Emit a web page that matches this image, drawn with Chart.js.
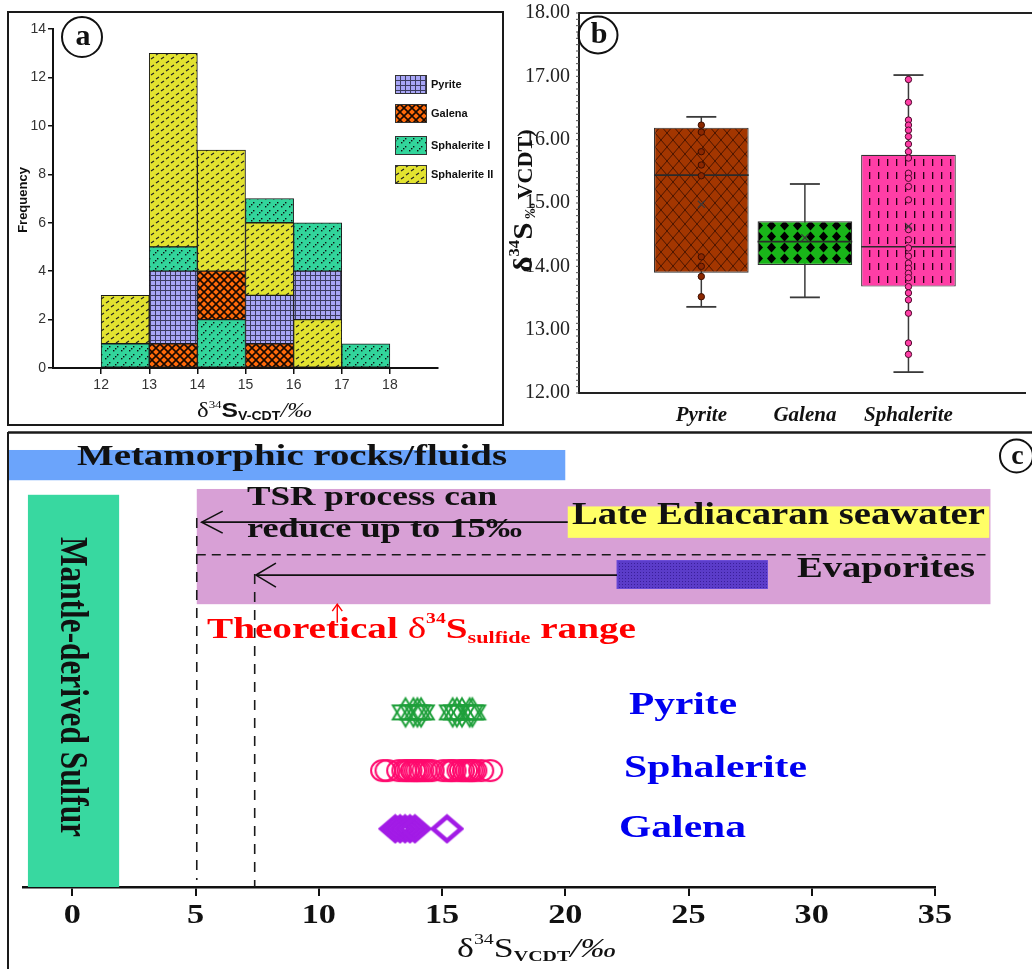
<!DOCTYPE html>
<html><head><meta charset="utf-8">
<script src="https://cdn.jsdelivr.net/npm/chart.js@4.4.1/dist/chart.umd.min.js"></script>
<style>
html,body{margin:0;padding:0;background:#fff;}
#wrap{position:relative;width:1032px;height:969px;overflow:hidden;background:#fff;}
#wrap canvas{position:absolute;}
</style></head><body>
<div id="wrap">
<canvas id="ca" width="505" height="430" style="left:0px;top:0px"></canvas>
<canvas id="cb" width="527" height="430" style="left:505px;top:0px"></canvas>
<canvas id="cc" width="1032" height="539" style="left:0px;top:430px"></canvas>
</div>
<script>
// ================= DATA =================
// (a) histogram of d34S (per 1 permil bin)
const binCenters = [12.5, 13.5, 14.5, 15.5, 16.5, 17.5];
const histXTicks = [12, 13, 14, 15, 16, 17, 18];
const histYTicks = [0, 2, 4, 6, 8, 10, 12, 14];
const histSeries = ['Pyrite', 'Galena', 'Sphalerite I', 'Sphalerite II'];
const pyriteCounts = [0, 3, 0, 2, 2, 0];
const galenaCounts = [0, 1, 2, 1, 0, 0];
const sphalerite1Counts = [1, 1, 2, 1, 2, 1];
const sphalerite2Counts = [2, 8, 5, 3, 2, 0];
// stacking order inside each bin (bottom -> top), indices into histSeries
const binStackOrder = [[2, 3], [1, 0, 2, 3], [2, 1, 3], [1, 0, 3, 2], [3, 0, 2], [2]];

// (b) box plot
const boxCategories = ['Pyrite', 'Galena', 'Sphalerite'];
const boxMin = [13.36, 13.51, 12.33];
const boxQ1 = [13.90, 14.02, 13.68];
const boxMedian = [15.44, 14.39, 14.31];
const boxQ3 = [16.19, 14.71, 15.76];
const boxMax = [16.36, 15.30, 17.02];
const boxMean = [14.98, 14.45, 14.63];
const boxYTicks = [12, 13, 14, 15, 16, 17, 18];
const pyriteValues = [16.23, 16.12, 15.81, 15.60, 15.43, 14.15, 14.00, 13.84, 13.52];
const sphaleriteValues = [16.95, 16.59, 16.31, 16.23, 16.15, 16.05, 15.93, 15.81, 15.71, 15.47, 15.39, 15.26, 15.05,
  14.58, 14.42, 14.29, 14.16, 14.05, 13.97, 13.89, 13.82, 13.68, 13.58, 13.47, 13.26, 12.79, 12.61];
const galenaValues = [13.1, 13.3, 13.5, 13.7, 13.9, 15.2];

// (c) sulfur source ranges (permil)
const rangeXTicks = [0, 5, 10, 15, 20, 25, 30, 35];
const metamorphicRange = [-2.6, 20];
const mantleRange = [-1.8, 1.9];
const sulfideFieldRange = [5.05, 37.25];
const seawaterLabelRange = [20.1, 37.2];
const evaporiteRange = [22.1, 28.2];
const tsrShift = [20.1, 5.25];
const evaporiteShift = [22.1, 7.45];
const tsrLimits = [5.05, 7.4];
const theoreticalMark = 10.75;

// ================= STYLE / LAYOUT =================
const SERIF = "'Liberation Serif', 'Times New Roman', serif";
const SANS = "'Liberation Sans', Arial, sans-serif";
Chart.defaults.font.family = SANS;
Chart.defaults.animation = false;

// vertical layout rows of panel (c), in y-axis units
const L = { galena: 1, sphalerite: 2, pyrite: 3, fieldLo: 4.86, fieldHi: 6.84, seaLo: 6.0, seaHi: 6.54,
  evapLo: 5.13, evapHi: 5.61, split: 5.71, tsrArrow: 6.27, evapArrow: 5.36, metaLo: 6.99, metaHi: 7.51,
  mantleHi: 6.74, tsrLineTop: 6.34, tsrLineBot: 0.12, evapLineTop: 5.38, theoLo: 4.54, yMax: 7.63 };

function pattern(w, h, bg, draw) {
  const c = document.createElement('canvas'); c.width = w; c.height = h;
  const g = c.getContext('2d'); g.fillStyle = bg; g.fillRect(0, 0, w, h); draw(g);
  return document.createElement('canvas').getContext('2d').createPattern(c, 'repeat');
}
const patA = [
  pattern(5, 5, '#a7a5f5', g => { g.fillStyle = '#3c3c60'; g.fillRect(0, 0, 5, 1); g.fillRect(0, 0, 1, 5); }),
  pattern(8, 8, '#ff6a0a', g => { g.strokeStyle = '#1a0a00'; g.lineWidth = 1.6; g.beginPath(); g.moveTo(-1, -1); g.lineTo(9, 9); g.moveTo(9, -1); g.lineTo(-1, 9); g.stroke(); }),
  pattern(8, 8, '#32d59b', g => { g.fillStyle = '#111'; for (let i = 0; i < 3; i++) g.fillRect(i * 2 + 1, 6 - i * 2, 1.4, 1.4); }),
  pattern(10, 8, '#e2e230', g => { g.strokeStyle = '#222'; g.lineWidth = 1.2; g.beginPath(); g.moveTo(1, 3); g.lineTo(4, 1); g.moveTo(6, 7); g.lineTo(9, 5); g.stroke(); })
];
const patB = [
  pattern(12, 14, '#a33600', g => { g.strokeStyle = '#4a1600'; g.lineWidth = 1; g.beginPath(); g.moveTo(0, 0); g.lineTo(12, 14); g.moveTo(12, 0); g.lineTo(0, 14); g.stroke(); }),
  pattern(13, 11, '#19b519', g => { g.fillStyle = '#000'; g.beginPath(); g.moveTo(6.5, 0.5); g.lineTo(11, 5.5); g.lineTo(6.5, 10.5); g.lineTo(2, 5.5); g.closePath(); g.fill(); }),
  pattern(9, 13, '#ff3ea6', g => { g.fillStyle = '#2a0015'; g.fillRect(4, 3, 1.3, 7); })
];
const patEvap = pattern(3, 3, '#5b3cc9', g => { g.fillStyle = '#3a1f9a'; g.fillRect(1, 1, 1, 1); });

function drawRuns(ctx, runs, o) {
  ctx.save();
  let total = 0;
  for (const r of runs) { ctx.font = r.f; r.w = ctx.measureText(r.t).width; total += r.w; }
  const sx = o.w ? o.w / total : (o.sx || 1);
  ctx.translate(o.x, o.y);
  if (o.psx) ctx.scale(o.psx, 1);
  if (o.rot) ctx.rotate(o.rot);
  ctx.scale(sx, 1);
  let x = o.align === 'center' ? -total / 2 : o.align === 'right' ? -total : 0;
  ctx.textBaseline = o.baseline || 'alphabetic'; ctx.textAlign = 'left';
  for (const r of runs) { ctx.font = r.f; ctx.fillStyle = r.c || o.color || '#000'; ctx.fillText(r.t, x, r.dy || 0); x += r.w; }
  ctx.restore();
}
function circleLabel(ctx, cx, cy, rx, ry, letter, size) {
  ctx.save(); ctx.lineWidth = 2; ctx.strokeStyle = '#111';
  ctx.beginPath(); ctx.ellipse(cx, cy, rx, ry, 0, 0, Math.PI * 2); ctx.stroke(); ctx.restore();
  drawRuns(ctx, [{ t: letter, f: 'bold ' + size + 'px ' + SERIF }], { x: cx + 1, y: cy + size * 0.28, align: 'center', color: '#111' });
}
function line(ctx, x0, y0, x1, y1, color, lw, dash) {
  ctx.save(); ctx.strokeStyle = color; ctx.lineWidth = lw; ctx.setLineDash(dash || []);
  ctx.beginPath(); ctx.moveTo(x0, y0); ctx.lineTo(x1, y1); ctx.stroke(); ctx.restore();
}
function span(ctx, x0, y0, x1, y1, fill) {
  ctx.fillStyle = fill; ctx.fillRect(Math.min(x0, x1), Math.min(y0, y1), Math.abs(x1 - x0), Math.abs(y1 - y0));
}
const noOverflow = s => { s.paddingTop = 0; s.paddingBottom = 0; s.paddingLeft = 0; s.paddingRight = 0; };

// ================= PANEL (a) =================
const countsBySeries = [pyriteCounts, galenaCounts, sphalerite1Counts, sphalerite2Counts];
function floatingRanges(s) {
  const out = [];
  binCenters.forEach((c, b) => {
    let base = 0;
    for (const k of binStackOrder[b]) {
      const n = countsBySeries[k][b];
      if (k === s) { if (n > 0) out.push({ x: c, y: [base, base + n] }); break; }
      base += n;
    }
  });
  return out;
}
const panelA = {
  id: 'panelA',
  afterDraw(chart) {
    const ctx = chart.ctx;
    ctx.save(); ctx.lineWidth = 2; ctx.strokeStyle = '#1a1a1a'; ctx.strokeRect(8, 12, 495, 413); ctx.restore();
    circleLabel(ctx, 82, 37, 20, 20, 'a', 30);
    drawRuns(ctx, [{ t: 'Frequency', f: 'bold 13px ' + SANS }], { x: 27, y: 200, rot: -Math.PI / 2, align: 'center', color: '#111' });
    drawRuns(ctx, [
      { t: '\u03b4', f: '21px ' + SERIF },
      { t: '34', f: '11px ' + SERIF, dy: -9 },
      { t: 'S', f: 'bold 21px ' + SANS },
      { t: 'V-CDT', f: 'bold 12px ' + SANS, dy: 3 },
      { t: '/\u2030', f: 'italic 21px ' + SERIF }
    ], { x: 197, y: 417, w: 115, color: '#111' });
    const ys = [75, 104, 136, 165];
    histSeries.forEach((name, i) => {
      ctx.save(); ctx.fillStyle = patA[i]; ctx.fillRect(395, ys[i], 31, 18);
      ctx.strokeStyle = '#333'; ctx.lineWidth = 1; ctx.strokeRect(395.5, ys[i] + 0.5, 31, 18); ctx.restore();
      drawRuns(ctx, [{ t: name, f: 'bold 11px ' + SANS }], { x: 431, y: ys[i] + 13, color: '#111' });
    });
  }
};
new Chart(document.getElementById('ca'), {
  type: 'bar',
  data: {
    datasets: histSeries.map((name, s) => ({
      label: name, data: floatingRanges(s), backgroundColor: patA[s], borderColor: '#1a1a1a', borderWidth: 1,
      borderSkipped: false, grouped: false, barPercentage: 1, categoryPercentage: 1
    }))
  },
  options: {
    responsive: false, devicePixelRatio: 1, animation: false,
    layout: { padding: { left: 8, top: 29, right: 67, bottom: 22 } },
    plugins: { legend: { display: false }, tooltip: { enabled: false } },
    scales: {
      x: {
        type: 'linear', min: 11, max: 19, offset: false,
        afterBuildTicks: s => { s.ticks = histXTicks.map(v => ({ value: v })); },
        afterFit: s => { s.height = 40; noOverflow(s); },
        grid: { drawOnChartArea: false, drawTicks: true, tickLength: 6, color: '#111', lineWidth: 1.5, offset: false },
        border: { display: true, color: '#111', width: 2 },
        ticks: { color: '#333', font: { size: 14, family: SANS }, padding: 3, maxRotation: 0, autoSkip: false }
      },
      y: {
        type: 'linear', min: 0, max: 14,
        afterBuildTicks: s => { s.ticks = histYTicks.map(v => ({ value: v })); },
        afterFit: s => { s.width = 45; noOverflow(s); },
        grid: { drawOnChartArea: false, drawTicks: true, tickLength: 5, color: '#111', lineWidth: 1.5 },
        border: { display: true, color: '#111', width: 2 },
        ticks: { color: '#333', font: { size: 14, family: SANS }, padding: 2, autoSkip: false }
      }
    }
  },
  plugins: [panelA]
});

// ================= PANEL (b) =================
const panelB = {
  id: 'panelB',
  beforeDatasetsDraw(chart) {
    const ctx = chart.ctx, xs = chart.scales.x, ys = chart.scales.y;
    boxCategories.forEach((c, i) => {
      const x = xs.getPixelForValue(i + 1);
      line(ctx, x, ys.getPixelForValue(boxMax[i]), x, ys.getPixelForValue(boxMin[i]), '#3a3a3a', 1.5);
      line(ctx, x - 15, ys.getPixelForValue(boxMax[i]), x + 15, ys.getPixelForValue(boxMax[i]), '#3a3a3a', 1.8);
      line(ctx, x - 15, ys.getPixelForValue(boxMin[i]), x + 15, ys.getPixelForValue(boxMin[i]), '#3a3a3a', 1.8);
    });
  },
  afterDatasetDraw(chart, args) {
    if (args.meta.type !== 'bar') return;
    const ctx = chart.ctx, ys = chart.scales.y;
    args.meta.data.forEach((el, i) => {
      const y = ys.getPixelForValue(boxMedian[i]);
      line(ctx, el.x - el.width / 2, y, el.x + el.width / 2, y, '#2a2a2a', 1.6);
    });
  },
  afterDraw(chart) {
    const ctx = chart.ctx, ys = chart.scales.y, a = chart.chartArea;
    line(ctx, a.left, ys.getPixelForValue(18), chart.width, ys.getPixelForValue(18), '#222', 2);
    for (let k = 0; k <= 60; k++) {
      const y = ys.getPixelForValue(12 + k * 0.1);
      line(ctx, a.left - 3, y, a.left, y, '#555', 1);
    }
    circleLabel(ctx, 93, 35, 19.5, 18.5, 'b', 30);
    drawRuns(ctx, [
      { t: '\u03b4', f: 'bold 28px ' + SERIF },
      { t: '34', f: 'bold 15px ' + SERIF, dy: -13 },
      { t: 'S', f: 'bold 28px ' + SERIF },
      { t: ' \u2030 ', f: 'bold 14px ' + SERIF, dy: 3 },
      { t: 'VCDT)', f: 'bold 20px ' + SERIF }
    ], { x: 27, y: 201, rot: -Math.PI / 2, align: 'center', w: 143, color: '#111' });
  }
};
new Chart(document.getElementById('cb'), {
  type: 'bar',
  data: {
    datasets: [
      { type: 'scatter', label: 'Mean', data: boxMean.map((v, i) => ({ x: i + 1, y: v })), pointStyle: 'crossRot', pointRadius: 5,
        borderColor: '#3a3a3a', borderWidth: 1.2, backgroundColor: 'rgba(0,0,0,0)', order: 0 },
      { type: 'scatter', label: 'Pyrite', data: pyriteValues.map(v => ({ x: 1, y: v })), pointRadius: 3.2,
        backgroundColor: '#8b2800', borderColor: '#3d0e00', borderWidth: 1, order: 1 },
      { type: 'scatter', label: 'Sphalerite', data: sphaleriteValues.map(v => ({ x: 3, y: v })), pointRadius: 3.2,
        backgroundColor: '#ff3ea6', borderColor: '#4a0a2a', borderWidth: 1, order: 1 },
      { type: 'bar', label: 'IQR', data: boxQ1.map((q, i) => ({ x: i + 1, y: [q, boxQ3[i]] })), backgroundColor: patB,
        borderColor: '#333', borderWidth: 1.2, borderSkipped: false, grouped: false, barPercentage: 0.914, categoryPercentage: 1, order: 3 }
    ]
  },
  options: {
    responsive: false, devicePixelRatio: 1, animation: false,
    layout: { padding: { left: 0, top: 13, right: 0, bottom: 0 } },
    plugins: { legend: { display: false }, tooltip: { enabled: false } },
    scales: {
      x: {
        type: 'linear', min: -0.181, max: 4.133, offset: false,
        afterBuildTicks: s => { s.ticks = boxCategories.map((c, i) => ({ value: i + 1 })); },
        afterFit: s => { s.height = 37; noOverflow(s); },
        grid: { drawOnChartArea: false, drawTicks: false, offset: false },
        border: { display: true, color: '#222', width: 2 },
        ticks: { callback: v => boxCategories[v - 1], color: '#111', padding: 10, maxRotation: 0, autoSkip: false,
          font: { family: SERIF, size: 21, weight: 'bold', style: 'italic' } }
      },
      y: {
        type: 'linear', min: 12, max: 18,
        afterBuildTicks: s => { s.ticks = boxYTicks.map(v => ({ value: v })); },
        afterFit: s => { s.width = 74; noOverflow(s); },
        grid: { drawOnChartArea: false, drawTicks: false },
        border: { display: true, color: '#222', width: 2 },
        ticks: { callback: v => Number(v).toFixed(2), color: '#222', padding: 9, font: { family: SERIF, size: 20 } }
      }
    }
  },
  plugins: [panelB]
});

// ================= PANEL (c) =================
function hexagramImg(r, sx, color, lw) {
  const w = Math.ceil(2 * r * sx + lw * 2 + 2), h = Math.ceil(2 * r + lw * 2 + 2), c = document.createElement('canvas');
  c.width = w; c.height = h;
  const g = c.getContext('2d'); g.strokeStyle = color; g.lineWidth = lw;
  [-90, 90].forEach(a0 => {
    g.beginPath();
    for (let k = 0; k < 3; k++) {
      const a = (a0 + k * 120) * Math.PI / 180, px = w / 2 + r * sx * Math.cos(a), py = h / 2 + r * Math.sin(a);
      if (k) g.lineTo(px, py); else g.moveTo(px, py);
    }
    g.closePath(); g.stroke();
  });
  return c;
}
function ellipseImg(rx, ry, color, lw) {
  const w = Math.ceil(2 * rx + lw + 2), h = Math.ceil(2 * ry + lw + 2), c = document.createElement('canvas');
  c.width = w; c.height = h;
  const g = c.getContext('2d'); g.strokeStyle = color; g.lineWidth = lw;
  g.beginPath(); g.ellipse(w / 2, h / 2, rx, ry, 0, 0, Math.PI * 2); g.stroke();
  return c;
}
function diamondImg(hw, hh, color, lw) {
  const w = Math.ceil(2 * hw + lw + 2), h = Math.ceil(2 * hh + lw + 2), c = document.createElement('canvas');
  c.width = w; c.height = h;
  const g = c.getContext('2d'); g.strokeStyle = color; g.lineWidth = lw;
  g.beginPath(); g.moveTo(w / 2, h / 2 - hh); g.lineTo(w / 2 + hw, h / 2); g.lineTo(w / 2, h / 2 + hh); g.lineTo(w / 2 - hw, h / 2); g.closePath(); g.stroke();
  return c;
}
function arrowLeft(ctx, xFrom, xTip, y, dx, dy, color, lw) {
  line(ctx, xFrom, y, xTip, y, color, lw);
  ctx.save(); ctx.strokeStyle = color; ctx.lineWidth = lw; ctx.beginPath();
  ctx.moveTo(xTip + dx, y - dy); ctx.lineTo(xTip, y); ctx.lineTo(xTip + dx, y + dy); ctx.stroke(); ctx.restore();
}
const panelC = {
  id: 'panelC',
  beforeDatasetsDraw(chart) {
    const ctx = chart.ctx, X = v => chart.scales.x.getPixelForValue(v), Y = v => chart.scales.y.getPixelForValue(v);
    ctx.save();
    span(ctx, X(sulfideFieldRange[0]), Y(L.fieldHi), X(sulfideFieldRange[1]), Y(L.fieldLo), '#d8a0d6');
    span(ctx, X(seawaterLabelRange[0]), Y(L.seaHi), X(seawaterLabelRange[1]), Y(L.seaLo), '#ffff66');
    span(ctx, X(evaporiteRange[0]), Y(L.evapHi), X(evaporiteRange[1]), Y(L.evapLo), patEvap);
    ctx.strokeStyle = '#6a4ad8'; ctx.lineWidth = 1;
    ctx.strokeRect(X(evaporiteRange[0]), Y(L.evapHi), X(evaporiteRange[1]) - X(evaporiteRange[0]), Y(L.evapLo) - Y(L.evapHi));
    line(ctx, X(sulfideFieldRange[0]), Y(L.split), X(sulfideFieldRange[1]) - 5, Y(L.split), '#1a1a1a', 1.6, [9, 6]);
    arrowLeft(ctx, X(tsrShift[0]), X(tsrShift[1]), Y(L.tsrArrow), 21, 11, '#111', 1.6);
    arrowLeft(ctx, X(evaporiteShift[0]), X(evaporiteShift[1]), Y(L.evapArrow), 20, 12, '#111', 1.6);
    line(ctx, X(tsrLimits[0]), Y(L.tsrLineTop), X(tsrLimits[0]), Y(L.tsrLineBot), '#1a1a1a', 1.6, [10, 8]);
    line(ctx, X(tsrLimits[1]), Y(L.evapLineTop), X(tsrLimits[1]), Y(0), '#1a1a1a', 1.6, [10, 8]);
    const xr = X(theoreticalMark), yTop = Y(L.fieldLo);
    line(ctx, xr, Y(L.theoLo), xr, yTop, '#ff0000', 1.4);
    ctx.strokeStyle = '#ff0000'; ctx.lineWidth = 1.4; ctx.beginPath();
    ctx.moveTo(xr - 5, yTop + 7); ctx.lineTo(xr, yTop); ctx.lineTo(xr + 5, yTop + 7); ctx.stroke();
    span(ctx, X(metamorphicRange[0]), Y(L.metaHi), X(metamorphicRange[1]), Y(L.metaLo), '#6ba4fb');
    span(ctx, X(mantleRange[0]), Y(L.mantleHi), X(mantleRange[1]), Y(0), '#38d8a0');
    ctx.restore();
  },
  afterDraw(chart) {
    const ctx = chart.ctx, X = v => chart.scales.x.getPixelForValue(v);
    line(ctx, 8, 2.5, chart.width, 2.5, '#1a1a1a', 2.5);
    line(ctx, 8, 2, 8, chart.height, '#1a1a1a', 2);
    const B = 'bold ';
    drawRuns(ctx, [{ t: 'Metamorphic rocks/fluids', f: B + '29px ' + SERIF }], { x: 77, y: 35, w: 430, color: '#111' });
    drawRuns(ctx, [{ t: 'TSR process can', f: B + '27px ' + SERIF }], { x: 247, y: 75, w: 250, color: '#111' });
    drawRuns(ctx, [{ t: 'reduce up to 15\u2030', f: B + '27px ' + SERIF }], { x: 247, y: 107, w: 275, color: '#111' });
    drawRuns(ctx, [{ t: 'Late Ediacaran seawater', f: B + '32px ' + SERIF }], { x: 572, y: 94, w: 413, color: '#111' });
    drawRuns(ctx, [{ t: 'Evaporites', f: B + '29px ' + SERIF }], { x: 797, y: 147, w: 178, color: '#111' });
    drawRuns(ctx, [
      { t: 'Theoretical ', f: B + '30px ' + SERIF },
      { t: '\u03b4', f: '30px ' + SERIF },
      { t: '34', f: B + '15px ' + SERIF, dy: -15 },
      { t: 'S', f: B + '30px ' + SERIF },
      { t: 'sulfide', f: B + '17px ' + SERIF, dy: 5 },
      { t: ' range', f: B + '30px ' + SERIF }
    ], { x: 207, y: 208, w: 429, color: '#ff0000' });
    drawRuns(ctx, [{ t: 'Mantle-derived Sulfur', f: B + '31px ' + SERIF }],
      { x: 61, y: 257, rot: Math.PI / 2, psx: 1.3, align: 'center', w: 300, color: '#111' });
    drawRuns(ctx, [{ t: 'Pyrite', f: B + '31px ' + SERIF }], { x: 629, y: 284, w: 108, color: '#0000f0' });
    drawRuns(ctx, [{ t: 'Sphalerite', f: B + '31px ' + SERIF }], { x: 624, y: 347, w: 183, color: '#0000f0' });
    drawRuns(ctx, [{ t: 'Galena', f: B + '31px ' + SERIF }], { x: 619, y: 407, w: 127, color: '#0000f0' });
    rangeXTicks.forEach(v => drawRuns(ctx, [{ t: String(v), f: B + '27px ' + SERIF }], { x: X(v), y: 493, sx: 1.27, align: 'center', color: '#111' }));
    drawRuns(ctx, [
      { t: '\u03b4', f: '27px ' + SERIF },
      { t: '34', f: '15px ' + SERIF, dy: -13 },
      { t: 'S', f: '27px ' + SERIF },
      { t: 'VCDT', f: B + '15px ' + SERIF, dy: 4 },
      { t: '/\u2030', f: 'italic 27px ' + SERIF }
    ], { x: 457, y: 527, w: 159, color: '#111' });
    ctx.save(); ctx.fillStyle = '#fff'; ctx.beginPath(); ctx.arc(1016.5, 26, 16.5, 0, Math.PI * 2); ctx.fill(); ctx.restore();
    circleLabel(ctx, 1016.5, 26, 16.5, 16.5, 'c', 28);
  }
};
new Chart(document.getElementById('cc'), {
  type: 'scatter',
  data: {
    datasets: [
      { label: 'Pyrite', data: pyriteValues.map(v => ({ x: v, y: L.pyrite })), pointStyle: hexagramImg(14, 1.05, '#1e9f3a', 2), pointRadius: 12 },
      { label: 'Sphalerite', data: sphaleriteValues.map(v => ({ x: v, y: L.sphalerite })), pointStyle: ellipseImg(12, 10.5, '#ff0a6e', 2), pointRadius: 11 },
      { label: 'Galena', data: galenaValues.map(v => ({ x: v, y: L.galena })), pointStyle: diamondImg(14, 12, '#a21be6', 4.5), pointRadius: 12 }
    ]
  },
  options: {
    responsive: false, devicePixelRatio: 1, animation: false,
    layout: { padding: { left: 23, right: 97, top: 3, bottom: 72 } },
    plugins: { legend: { display: false }, tooltip: { enabled: false } },
    scales: {
      x: {
        type: 'linear', min: -2, max: 35,
        afterBuildTicks: s => { s.ticks = rangeXTicks.map(v => ({ value: v })); },
        afterFit: s => { s.height = 10; noOverflow(s); },
        grid: { drawOnChartArea: false, drawTicks: true, tickLength: 9, color: '#111', lineWidth: 2 },
        border: { display: true, color: '#111', width: 2.5 },
        ticks: { display: false }
      },
      y: { type: 'linear', min: 0, max: L.yMax, display: false }
    }
  },
  plugins: [panelC]
});
</script>
</body></html>
